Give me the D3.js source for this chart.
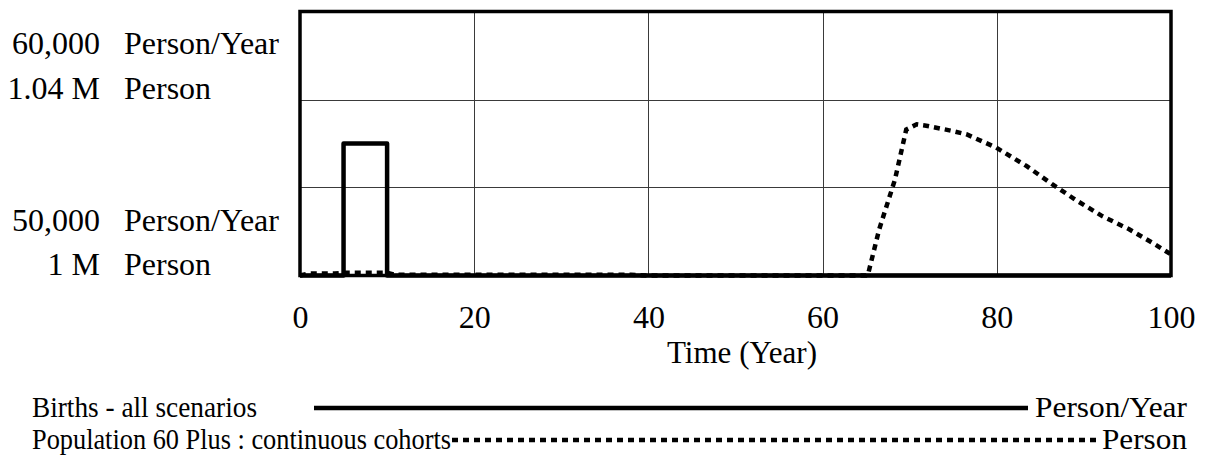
<!DOCTYPE html>
<html>
<head>
<meta charset="utf-8">
<script src="https://cdn.jsdelivr.net/npm/d3@7"></script>
<style>
  body { margin: 0; background: #fff; }
  svg text { font-family: "Liberation Serif", "Times New Roman", serif; fill: #000; }
</style>
</head>
<body>
<svg id="chart" width="1205" height="459"></svg>
<script>
  // data
  const timeTicks = [0, 20, 40, 60, 80, 100];

  const birthsTime = [0, 5, 10, 100];
  const birthsValue = [48000, 55000, 48000, 48000];

  const popTime = [0, 1, 4, 5, 10, 11, 38, 40, 65, 65.2, 66.5, 68.3, 69.6, 70.8, 71.9, 74.9, 76.5, 79.9, 83.4, 86.4, 89, 92.1, 95.2, 97.8, 100];
  const popValue = [1000000, 1000300, 1000300, 1000400, 1000400, 1000100, 1000100, 999800, 999800, 1000100, 1007000, 1014500, 1022100, 1022900, 1022700, 1021900, 1021400, 1019400, 1016600, 1013800, 1011500, 1009000, 1007000, 1005000, 1003200];

  const birthsRange = [50000, 60000];
  const popRange = [1000000, 1040000];
  const gridDivisions = 3;

  const svg = d3.select('#chart');
  const plotL = 300, plotR = 1171, plotT = 11.5, plotB = 275.5;
  const FS = 32;
  const LEGEND_FS = 28.5;
  const DOTS = '6 5';

  const x = d3.scaleLinear().domain([0, 100]).range([plotL, plotR]);
  const yBirths = d3.scaleLinear().domain(birthsRange).range([plotB, plotT]).clamp(true);
  const yPop = d3.scaleLinear().domain(popRange).range([plotB, plotT]).clamp(true);

  // grid
  const hGrid = d3.range(1, gridDivisions)
    .map(i => birthsRange[0] + (birthsRange[1] - birthsRange[0]) * i / gridDivisions);
  const grid = svg.append('g').attr('stroke', '#3a3a3a').attr('stroke-width', 1);
  grid.selectAll('.vg')
    .data(timeTicks.slice(1, -1))
    .enter()
    .append('line')
    .attr('x1', d => Math.round(x(d)) + 0.5)
    .attr('x2', d => Math.round(x(d)) + 0.5)
    .attr('y1', plotT)
    .attr('y2', plotB);
  grid.selectAll('.hg')
    .data(hGrid)
    .enter()
    .append('line')
    .attr('x1', plotL)
    .attr('x2', plotR)
    .attr('y1', d => Math.round(yBirths(d)) + 0.5)
    .attr('y2', d => Math.round(yBirths(d)) + 0.5);

  // series
  const birthsLine = d3.line()
    .x(d => x(d[0]))
    .y(d => yBirths(d[1]))
    .curve(d3.curveStepAfter);
  const popLine = d3.line()
    .x(d => x(d[0]))
    .y(d => yPop(d[1]));

  svg.append('path')
    .datum(birthsTime.map((t, i) => [t, birthsValue[i]]))
    .attr('d', birthsLine)
    .attr('fill', 'none')
    .attr('stroke', '#000')
    .attr('stroke-width', 4.5)
    .attr('stroke-linejoin', 'round');

  svg.append('path')
    .datum(popTime.map((t, i) => [t, popValue[i]]))
    .attr('d', popLine)
    .attr('fill', 'none')
    .attr('stroke', '#000')
    .attr('stroke-width', 4.5)
    .attr('stroke-dasharray', DOTS);

  // frame
  svg.append('rect')
    .attr('x', plotL)
    .attr('y', plotT)
    .attr('width', plotR - plotL)
    .attr('height', plotB - plotT)
    .attr('fill', 'none')
    .attr('stroke', '#000')
    .attr('stroke-width', 3.5);

  // x axis labels
  const xAxis = svg.append('g')
    .attr('transform', `translate(0, ${plotB})`)
    .call(d3.axisBottom(x).tickValues(timeTicks).tickSize(0).tickPadding(0).tickFormat(d3.format('d')));
  xAxis.select('.domain').remove();
  xAxis.selectAll('text')
    .attr('dy', null)
    .attr('y', 52.5)
    .attr('fill', '#000')
    .style('font-size', FS + 'px')
    .style('font-family', '"Liberation Serif", serif');

  svg.append('text')
    .attr('x', 667)
    .attr('y', 363)
    .attr('textLength', 150)
    .attr('lengthAdjust', 'spacingAndGlyphs')
    .style('font-size', FS + 'px')
    .text('Time (Year)');

  // left scale labels
  const fmtK = d3.format(',');
  const fmtM = v => (v / 1e6) + ' M';
  const leftLabels = [
    { num: fmtK(birthsRange[1]), unit: 'Person/Year', y: plotT + 42 },
    { num: fmtM(popRange[1]), unit: 'Person', y: plotT + 87 },
    { num: fmtK(birthsRange[0]), unit: 'Person/Year', y: plotB - 45 },
    { num: fmtM(popRange[0]), unit: 'Person', y: plotB - 0.5 }
  ];
  const ll = svg.append('g').selectAll('g').data(leftLabels).enter().append('g');
  ll.append('text')
    .attr('x', 100)
    .attr('y', d => d.y)
    .attr('text-anchor', 'end')
    .style('font-size', FS + 'px')
    .text(d => d.num);
  ll.append('text')
    .attr('x', 124)
    .attr('y', d => d.y)
    .style('font-size', FS + 'px')
    .text(d => d.unit);

  // legend
  const legendItems = [
    { name: 'Births - all scenarios', nameW: 225, unit: 'Person/Year', unitW: 152, x0: 314, x1: 1028, y: 417, dash: null },
    { name: 'Population 60 Plus : continuous cohorts', nameW: 419, unit: 'Person', unitW: 85, x0: 452, x1: 1096, y: 449, dash: DOTS }
  ];
  const lg = svg.append('g').selectAll('g').data(legendItems).enter().append('g');
  lg.append('text')
    .attr('x', 32)
    .attr('y', d => d.y)
    .attr('textLength', d => d.nameW)
    .attr('lengthAdjust', 'spacingAndGlyphs')
    .style('font-size', LEGEND_FS + 'px')
    .text(d => d.name);
  lg.append('line')
    .attr('x1', d => d.x0)
    .attr('x2', d => d.x1)
    .attr('y1', d => d.y - 9)
    .attr('y2', d => d.y - 9)
    .attr('stroke', '#000')
    .attr('stroke-width', 4.5)
    .attr('stroke-dasharray', d => d.dash);
  lg.append('text')
    .attr('x', d => 1187 - d.unitW)
    .attr('y', d => d.y)
    .attr('textLength', d => d.unitW)
    .attr('lengthAdjust', 'spacingAndGlyphs')
    .style('font-size', LEGEND_FS + 'px')
    .text(d => d.unit);
</script>
</body>
</html>
